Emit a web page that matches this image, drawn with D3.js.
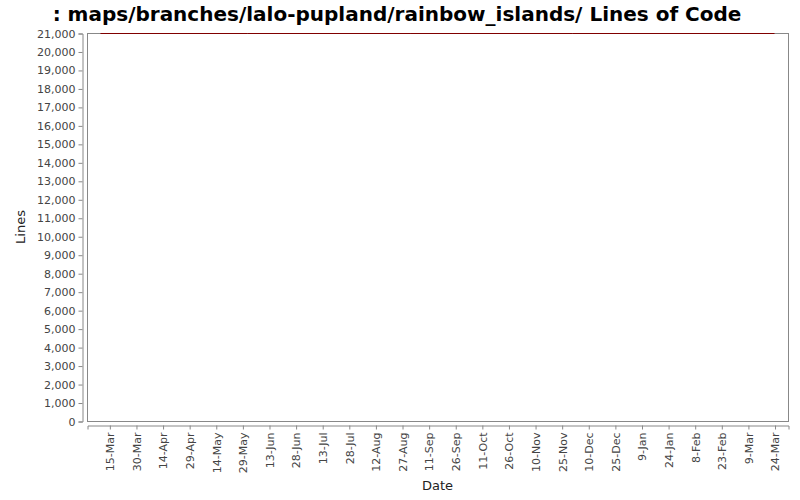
<!DOCTYPE html>
<html>
<head>
<meta charset="utf-8">
<script src="https://cdn.jsdelivr.net/npm/d3@7"></script>
<style>
  body { margin: 0; background: #fff; }
  svg { display: block; font-family: "DejaVu Sans", sans-serif; }
</style>
</head>
<body>
<div id="chart"></div>
<script>
// data
var dates = ['2007-03-10', '2007-06-01', '2007-09-01', '2007-12-01', '2008-03-24'];
var lines = [21000, 21000, 21000, 21000, 21000];
var tickLabels = ['2007-03-15', '2007-03-30', '2007-04-14', '2007-04-29', '2007-05-14',
  '2007-05-29', '2007-06-13', '2007-06-28', '2007-07-13', '2007-07-28', '2007-08-12',
  '2007-08-27', '2007-09-11', '2007-09-26', '2007-10-11', '2007-10-26', '2007-11-10',
  '2007-11-25', '2007-12-10', '2007-12-25', '2008-01-09', '2008-01-24', '2008-02-08',
  '2008-02-23', '2008-03-09', '2008-03-24'];
var yTicks = d3.range(0, 21001, 1000);

var width = 800, height = 500;
var plot = { left: 87, right: 788, top: 33, bottom: 421 };

var parse = d3.timeParse('%Y-%m-%d');
var data = dates.map(function(d, i) { return { date: parse(d), value: lines[i] }; });

// x domain: data extent with a 2% margin on each side
var ext = d3.extent(data, function(d) { return d.date; });
var pad = (ext[1] - ext[0]) * 0.02;
var x = d3.scaleTime()
  .domain([new Date(+ext[0] - pad), new Date(+ext[1] + pad)])
  .range([plot.left, plot.right]);

var y = d3.scaleLinear()
  .domain([0, 21000])
  .range([plot.bottom, plot.top]);

var svg = d3.select('#chart').append('svg')
  .attr('width', width)
  .attr('height', height);

svg.append('text')
  .attr('x', 397)
  .attr('y', 21)
  .attr('text-anchor', 'middle')
  .style('font-size', '20px')
  .style('font-weight', 'bold')
  .text(': maps/branches/lalo-pupland/rainbow_islands/ Lines of Code');

// plot outline
svg.append('rect')
  .attr('x', plot.left + 0.5)
  .attr('y', plot.top + 0.5)
  .attr('width', plot.right - plot.left)
  .attr('height', plot.bottom - plot.top)
  .attr('fill', '#fff')
  .attr('stroke', '#888');

// y axis, drawn 4px left of the plot
var yAxis = svg.append('g')
  .attr('transform', 'translate(' + (plot.left - 4.5) + ',0.5)')
  .call(d3.axisLeft(y).tickValues(yTicks).tickSize(4).tickPadding(3)
    .tickFormat(d3.format(',')));

// x axis, drawn 4px below the plot
var xAxis = svg.append('g')
  .attr('transform', 'translate(0.5,' + (plot.bottom + 4.5) + ')')
  .call(d3.axisBottom(x).tickValues(tickLabels.map(parse)).tickSize(4)
    .tickFormat(d3.timeFormat('%-d-%b')));

xAxis.selectAll('text')
  .attr('transform', 'rotate(-90)')
  .attr('text-anchor', 'end')
  .attr('x', -7)
  .attr('y', 0)
  .attr('dy', '0.35em');

[yAxis, xAxis].forEach(function(g) {
  g.select('.domain').attr('stroke', '#888');
  g.selectAll('.tick line').attr('stroke', '#888');
  g.selectAll('.tick text')
    .attr('fill', '#444')
    .style('font-size', '11px')
    .style('font-family', '"DejaVu Sans", sans-serif');
});

// the series
svg.append('path')
  .datum(data)
  .attr('fill', 'none')
  .attr('stroke', '#800000')
  .attr('stroke-width', 1)
  .attr('d', d3.line()
    .x(function(d) { return x(d.date); })
    .y(function(d) { return y(d.value) + 0.5; }));

svg.append('text')
  .attr('x', (plot.left + plot.right) / 2)
  .attr('y', 490)
  .attr('text-anchor', 'middle')
  .style('font-size', '13px')
  .attr('fill', '#222')
  .text('Date');

svg.append('text')
  .attr('transform', 'translate(25,' + (plot.top + plot.bottom) / 2 + ') rotate(-90)')
  .attr('text-anchor', 'middle')
  .style('font-size', '13px')
  .attr('fill', '#222')
  .text('Lines');
</script>
</body>
</html>
